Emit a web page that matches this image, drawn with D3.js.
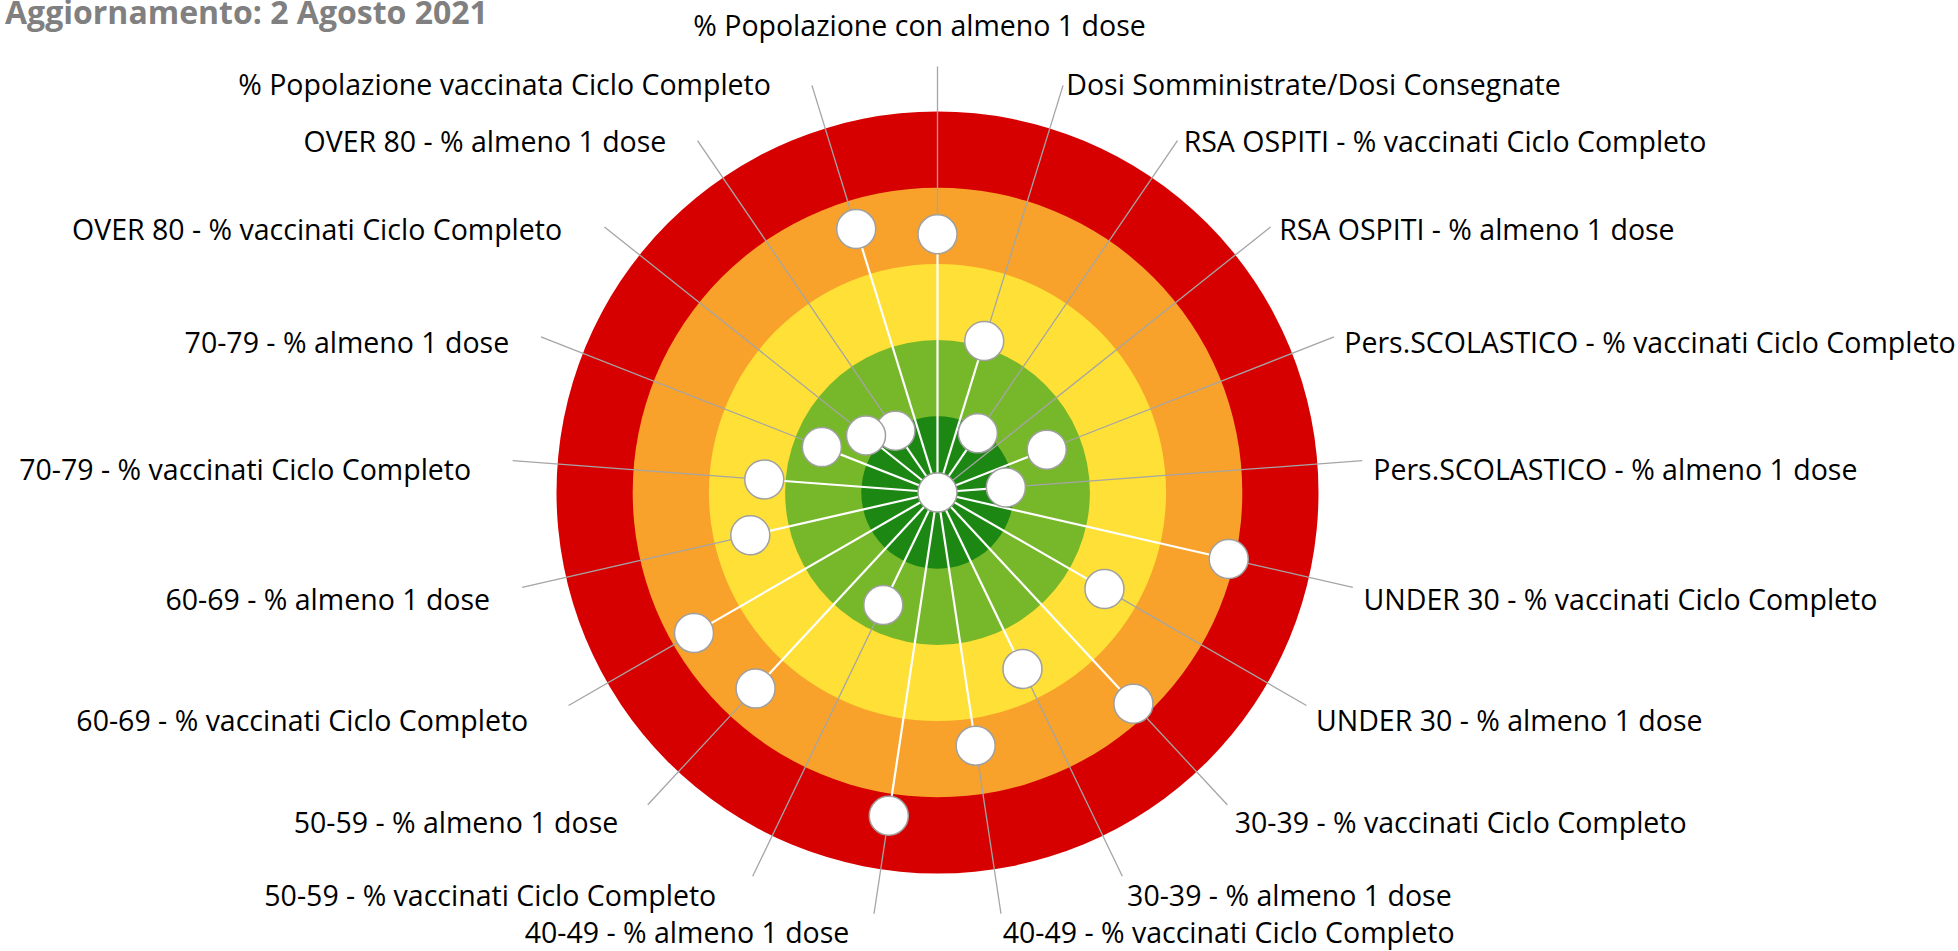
<!DOCTYPE html>
<html>
<head>
<meta charset="utf-8">
<script src="https://cdn.jsdelivr.net/npm/d3@7"></script>
<style>
  html, body { margin: 0; padding: 0; background: #fff; }
  svg { display: block; }
  text { font-family: "Open Sans", "Noto Sans", sans-serif; }
</style>
</head>
<body>
<svg id="chart" width="1958" height="951"></svg>
<script>
// Indicators, clockwise from the top
const categories = [
  "% Popolazione con almeno 1 dose",
  "Dosi Somministrate/Dosi Consegnate",
  "RSA OSPITI - % vaccinati Ciclo Completo",
  "RSA OSPITI - % almeno 1 dose",
  "Pers.SCOLASTICO - % vaccinati Ciclo Completo",
  "Pers.SCOLASTICO - % almeno 1 dose",
  "UNDER 30 - % vaccinati Ciclo Completo",
  "UNDER 30 - % almeno 1 dose",
  "30-39 - % vaccinati Ciclo Completo",
  "30-39 - % almeno 1 dose",
  "40-49 - % vaccinati Ciclo Completo",
  "40-49 - % almeno 1 dose",
  "50-59 - % vaccinati Ciclo Completo",
  "50-59 - % almeno 1 dose",
  "60-69 - % vaccinati Ciclo Completo",
  "60-69 - % almeno 1 dose",
  "70-79 - % vaccinati Ciclo Completo",
  "70-79 - % almeno 1 dose",
  "OVER 80 - % vaccinati Ciclo Completo",
  "OVER 80 - % almeno 1 dose",
  "% Popolazione vaccinata Ciclo Completo"
];

// Coverage (%) per indicator: 100% sits at the centre
const values = [
  66.1, 79.2, 90.6, 100, 84.6, 91.0, 60.8, 74.7, 62.2, 74.3, 66.4,
  57.1, 83.6, 64.9, 63.1, 74.8, 77.2, 83.7, 88.0, 90.2, 63.8
];

// Target bands, outermost first: lower bound of each band (%)
const bandLimits = [50, 60, 70, 80, 90];
const bandColors = ["#d70000", "#f8a22b", "#fee036", "#77b72a", "#1c8713"];

const title = "Aggiornamento: 2 Agosto 2021";

const svg = d3.select("#chart");
const cx = 937.5, cy = 492.5;
const outerR = 381;
const labelR = 426;
const markerR = 19.5;
const height = 951;

const r = d3.scaleLinear().domain([100, 50]).range([0, outerR]);
const angle = d3.scaleLinear().domain([0, categories.length]).range([0, 2 * Math.PI]);

const g = svg.append("g").attr("transform", `translate(${cx},${cy})`);

// Coloured target bands
g.append("g").selectAll("circle")
  .data(bandLimits)
  .join("circle")
  .attr("r", d => r(d))
  .attr("fill", (d, i) => bandColors[i]);

const pts = categories.map((c, i) => {
  const a = angle(i);
  const rv = r(values[i]);
  const [x, y] = d3.pointRadial(a, rv);
  return { c, v: values[i], a, rv, x, y, i };
});

// Spokes from the centre to each value
g.append("g").selectAll("line")
  .data(pts)
  .join("line")
  .attr("x1", 0).attr("y1", 0)
  .attr("x2", d => d.x).attr("y2", d => d.y)
  .attr("stroke", "#fff")
  .attr("stroke-width", 2.2);

// Leader lines from the marker to its label
g.append("g").selectAll("line")
  .data(pts)
  .join("line")
  .each(function(d) {
    const [x1, y1] = d3.pointRadial(d.a, d.rv + markerR);
    const [x2, y2] = d3.pointRadial(d.a, labelR);
    d3.select(this).attr("x1", x1).attr("y1", y1).attr("x2", x2).attr("y2", y2);
  })
  .attr("stroke", "#a5a5a5")
  .attr("stroke-width", 1.3);

// Markers
g.append("g").selectAll("circle")
  .data(pts.slice().reverse())
  .join("circle")
  .attr("cx", d => d.x).attr("cy", d => d.y)
  .attr("r", markerR)
  .attr("fill", "#fff")
  .attr("stroke", "#a0a0a0")
  .attr("stroke-width", 1.5);

// Category labels
const fontSize = 28.5;
const capHalf = fontSize * 0.36;
const maxBaseline = height - cy - 8;
const labels = g.append("g").selectAll("text")
  .data(pts)
  .join("text")
  .attr("font-size", fontSize)
  .attr("fill", "#000")
  .text(d => d.c);

labels.each(function(d) {
  const w = this.getComputedTextLength();
  const [ex, ey] = d3.pointRadial(d.a, labelR);
  const s = Math.sin(d.a), c = Math.cos(d.a);
  const t = d3.select(this);
  if (Math.abs(s) < 0.05) {
    t.attr("text-anchor", "middle")
     .attr("x", ex - 18)
     .attr("y", c > 0 ? ey - 31 : Math.min(ey + 40, maxBaseline));
  } else if (s > 0) {
    t.attr("text-anchor", "start")
     .attr("x", ex + 11 * Math.abs(s))
     .attr("y", Math.min(ey + 10 - 11 * c + capHalf, maxBaseline));
  } else {
    t.attr("text-anchor", "end")
     .attr("x", ex - 9 * Math.abs(s) - 0.072 * w)
     .attr("y", Math.min(ey + 10 - 11 * c + capHalf, maxBaseline));
  }
});

// Update date
svg.append("text")
  .attr("x", 5)
  .attr("y", 24)
  .attr("font-size", 32)
  .attr("font-weight", "bold")
  .attr("fill", "#808080")
  .text(title);
</script>
</body>
</html>
